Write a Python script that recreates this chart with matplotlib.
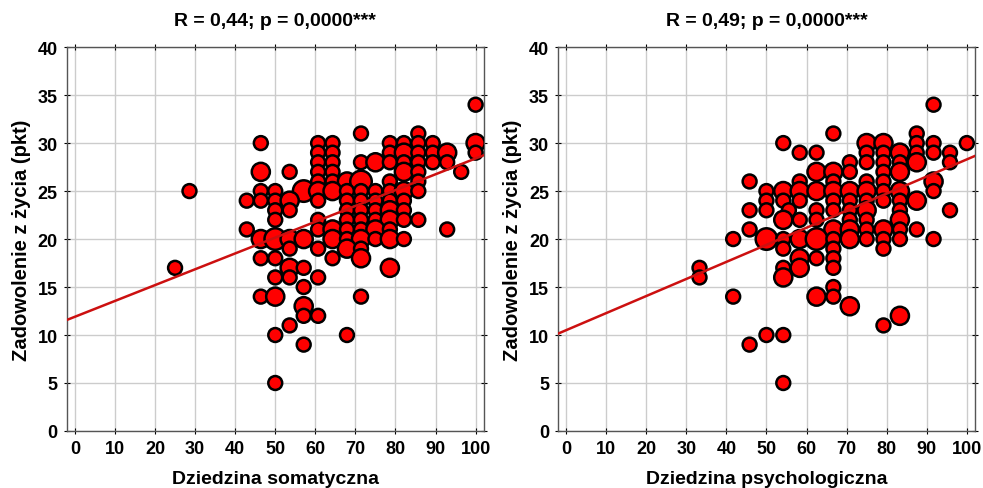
import numpy as np
import matplotlib
matplotlib.use("Agg")
import matplotlib.pyplot as plt

# ---------------- data: left panel (Dziedzina somatyczna) ----------------
som_x = [25.0, 28.6,
         42.9, 42.9,
         46.4, 46.4, 46.4, 46.4, 46.4, 46.4, 46.4,
         50.0, 50.0, 50.0, 50.0, 50.0, 50.0, 50.0, 50.0, 50.0, 50.0,
         53.6, 53.6, 53.6, 53.6, 53.6, 53.6, 53.6, 53.6,
         57.1, 57.1, 57.1, 57.1, 57.1, 57.1, 57.1,
         60.7, 60.7, 60.7, 60.7, 60.7, 60.7, 60.7, 60.7, 60.7, 60.7, 60.7, 60.7,
         64.3, 64.3, 64.3, 64.3, 64.3, 64.3, 64.3, 64.3, 64.3,
         67.9, 67.9, 67.9, 67.9, 67.9, 67.9, 67.9, 67.9, 67.9,
         71.4, 71.4, 71.4, 71.4, 71.4, 71.4, 71.4, 71.4, 71.4, 71.4, 71.4, 71.4,
         75.0, 75.0, 75.0, 75.0, 75.0, 75.0, 75.0,
         78.6, 78.6, 78.6, 78.6, 78.6, 78.6, 78.6, 78.6, 78.6, 78.6, 78.6,
         82.1, 82.1, 82.1, 82.1, 82.1, 82.1, 82.1, 82.1, 82.1,
         85.7, 85.7, 85.7, 85.7, 85.7, 85.7, 85.7, 85.7,
         89.3, 89.3, 89.3,
         92.9, 92.9, 92.9,
         96.4,
         100.0, 100.0, 100.0]
som_y = [17, 25,
         24, 21,
         30, 27, 25, 24, 20, 18, 14,
         25, 24, 23, 22, 20, 18, 16, 14, 10, 5,
         27, 24, 23, 20, 19, 17, 16, 11,
         25, 20, 17, 15, 13, 12, 9,
         30, 29, 28, 27, 26, 25, 24, 22, 21, 19, 16, 12,
         30, 29, 28, 27, 26, 25, 21, 20, 18,
         26, 25, 24, 23, 22, 21, 20, 19, 10,
         31, 28, 26, 25, 24, 23, 22, 21, 20, 19, 18, 14,
         28, 25, 24, 23, 22, 21, 20,
         30, 29, 28, 26, 25, 24, 23, 22, 21, 20, 17,
         30, 29, 28, 27, 25, 24, 23, 22, 20,
         31, 30, 29, 28, 27, 26, 25, 22,
         30, 29, 28,
         29, 28, 21,
         27,
         34, 30, 29]
som_n = [1, 1,
         1, 1,
         1, 2, 1, 1, 2, 1, 1,
         1, 1, 1, 1, 3, 1, 1, 2, 1, 1,
         1, 2, 1, 2, 1, 2, 1, 1,
         3, 2, 1, 1, 2, 1, 1,
         1, 1, 1, 1, 1, 2, 1, 1, 1, 1, 1, 1,
         1, 1, 1, 1, 1, 2, 2, 2, 1,
         2, 1, 1, 1, 1, 1, 1, 2, 1,
         1, 1, 3, 1, 1, 1, 1, 1, 2, 1, 2, 1,
         2, 1, 1, 1, 1, 2, 1,
         1, 1, 1, 1, 1, 1, 2, 2, 1, 2, 2,
         1, 2, 1, 2, 2, 1, 1, 1, 1,
         1, 1, 1, 1, 1, 1, 1, 1,
         1, 1, 1,
         2, 1, 1,
         1,
         1, 2, 1]

# ---------------- data: right panel (Dziedzina psychologiczna) ----------------
psy_x = [33.3, 33.3,
         41.7, 41.7,
         45.8, 45.8, 45.8, 45.8,
         50.0, 50.0, 50.0, 50.0, 50.0,
         54.2, 54.2, 54.2, 54.2, 54.2, 54.2, 54.2, 54.2, 54.2, 54.2,
         55.6,
         58.3, 58.3, 58.3, 58.3, 58.3, 58.3, 58.3, 58.3,
         62.5, 62.5, 62.5, 62.5, 62.5, 62.5, 62.5, 62.5,
         66.7, 66.7, 66.7, 66.7, 66.7, 66.7, 66.7, 66.7, 66.7, 66.7, 66.7, 66.7, 66.7,
         70.8, 70.8, 70.8, 70.8, 70.8, 70.8, 70.8, 70.8, 70.8,
         75.0, 75.0, 75.0, 75.0, 75.0, 75.0, 75.0, 75.0, 75.0, 75.0,
         79.2, 79.2, 79.2, 79.2, 79.2, 79.2, 79.2, 79.2, 79.2, 79.2, 79.2,
         83.3, 83.3, 83.3, 83.3, 83.3, 83.3, 83.3, 83.3, 83.3, 83.3,
         87.5, 87.5, 87.5, 87.5, 87.5, 87.5,
         91.7, 91.7, 91.7, 91.7, 91.7, 91.7,
         95.8, 95.8, 95.8,
         100.0]
psy_y = [17, 16,
         20, 14,
         26, 23, 21, 9,
         25, 24, 23, 20, 10,
         30, 25, 24, 22, 20, 19, 17, 16, 10, 5,
         23,
         29, 26, 25, 24, 22, 20, 18, 17,
         29, 27, 25, 23, 22, 20, 18, 14,
         31, 27, 26, 25, 24, 23, 21, 20, 19, 18, 17, 15, 14,
         28, 27, 25, 24, 23, 22, 21, 20, 13,
         30, 29, 28, 26, 25, 24, 23, 22, 21, 20,
         30, 29, 28, 27, 26, 25, 24, 21, 20, 19, 11,
         29, 28, 27, 25, 24, 23, 22, 21, 20, 12,
         31, 30, 29, 28, 24, 21,
         34, 30, 29, 26, 25, 20,
         29, 28, 23,
         30]
psy_n = [1, 1,
         1, 1,
         1, 1, 1, 1,
         1, 1, 1, 3, 1,
         1, 2, 1, 2, 1, 1, 1, 2, 1, 1,
         1,
         1, 1, 2, 1, 1, 2, 2, 2,
         1, 2, 2, 1, 1, 3, 1, 2,
         1, 2, 1, 2, 1, 1, 2, 1, 1, 1, 1, 1, 1,
         1, 1, 2, 1, 1, 1, 2, 2, 2,
         2, 1, 1, 1, 2, 1, 2, 1, 1, 1,
         2, 1, 1, 1, 1, 1, 1, 2, 1, 1, 1,
         2, 1, 2, 2, 1, 1, 2, 1, 1, 2,
         1, 1, 1, 2, 2, 1,
         1, 1, 1, 2, 1, 1,
         1, 1, 1,
         1]

# regression lines (intercept, slope) and titles
som_fit = (11.9, 0.165)
psy_fit = (10.5, 0.178)
titles = ["R = 0,44; p = 0,0000***", "R = 0,49; p = 0,0000***"]
xlabels = ["Dziedzina somatyczna", "Dziedzina psychologiczna"]
ylabel = "Zadowolenie z życia (pkt)"
xticks = list(range(0, 101, 10))
yticks = list(range(0, 41, 5))

# ---------------- plotting ----------------
plt.rcParams['font.family'] = ['Liberation Sans', 'DejaVu Sans']
plt.rcParams['font.weight'] = 'bold'

fig = plt.figure(figsize=(9.83, 4.89), dpi=100)
axes = [fig.add_axes([0.068, 0.1166, 0.424, 0.785]),
        fig.add_axes([0.5677, 0.1166, 0.424, 0.785])]

size_map = {1: 100, 2: 170, 3: 240}
panels = [(som_x, som_y, som_n, som_fit), (psy_x, psy_y, psy_n, psy_fit)]

for i, (ax, (xs, ys, ns, fit)) in enumerate(zip(axes, panels)):
    xs = np.asarray(xs, float)
    ys = np.asarray(ys, float)
    ns = np.asarray(ns)
    order = np.argsort(-ys, kind="stable")
    sizes = np.array([size_map[n] for n in ns])
    ax.scatter(xs[order], ys[order], s=sizes[order], facecolor='#ff0000',
               edgecolor='black', linewidth=1.8, zorder=3)
    xl = np.array([-2, 102])
    ax.plot(xl, fit[0] + fit[1] * xl, color='#cc1010', lw=1.8, zorder=4)
    ax.set_xlim(-2, 102)
    ax.set_ylim(0, 40)
    ax.set_xticks(xticks)
    ax.set_yticks(yticks)
    ax.grid(True, color='#cccccc', lw=1.0, zorder=0)
    ax.set_axisbelow(True)
    ax.tick_params(direction='inout', length=5, width=0.8, top=True, right=True,
                   labelsize=13, pad=4, colors='black')
    for lab in ax.get_xticklabels() + ax.get_yticklabels():
        lab.set_fontweight('bold')
    for sp in ax.spines.values():
        sp.set_color('#555555')
        sp.set_linewidth(1.0)
    ax.set_title(titles[i], fontsize=14, fontweight='bold', pad=16)
    ax.set_xlabel(xlabels[i], fontsize=14, fontweight='bold', labelpad=9)
    ax.set_ylabel(ylabel, fontsize=14.5, fontweight='bold', labelpad=5)

fig.savefig("out.png", dpi=100)
